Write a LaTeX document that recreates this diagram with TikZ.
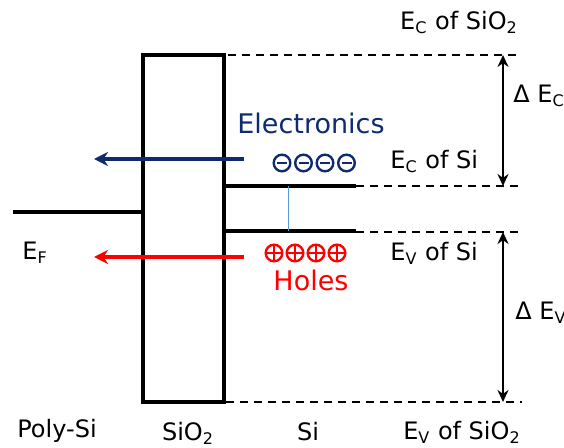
\documentclass[tikz,border=0pt]{standalone}
\usepackage{fontspec}
\setmainfont{DejaVu Sans}
\usetikzlibrary{arrows.meta}
\definecolor{elecblue}{HTML}{0D2B6E}
\definecolor{holered}{HTML}{FF0000}
\definecolor{linkblue}{HTML}{5B9BD5}

\begin{document}
\begin{tikzpicture}[
  x=0.5pt, y=-0.5pt,
  lbl/.style={font=\fontsize{12}{14}\selectfont, inner sep=0pt},
  carrierlbl/.style={font=\fontsize{13.5}{16}\selectfont, inner sep=0pt},
  oxide/.style={draw, line width=1.7pt, minimum width=40.5pt, minimum height=173.5pt, inner sep=0pt},
  band/.style={line width=2pt},
  level/.style={line width=0.8pt, dash pattern=on 4pt off 3pt},
  gap/.style={{Stealth[length=6pt,width=5.5pt]}-{Stealth[length=6pt,width=5.5pt]}, line width=0.9pt},
  flow/.style={-{Stealth[length=7pt,width=7pt]}, line width=1.9pt},
  electron/.style={circle, draw=elecblue, line width=1.2pt, minimum size=8.3pt, inner sep=0pt,
    path picture={\draw[elecblue, line width=1.1pt]
      ([xshift=-2.5pt]path picture bounding box.center) -- ([xshift=2.5pt]path picture bounding box.center);}},
  hole/.style={circle, draw=holered, line width=1.2pt, minimum size=8.3pt, inner sep=0pt,
    path picture={\draw[holered, line width=1.1pt]
      ([xshift=-4pt]path picture bounding box.center) -- ([xshift=4pt]path picture bounding box.center)
      ([yshift=-4pt]path picture bounding box.center) -- ([yshift=4pt]path picture bounding box.center);}}
]
\useasboundingbox (0,0) rectangle (564,448);

% oxide barrier and Fermi level of the gate
\node[oxide] (ox) at (183.5,228.5) {};
\coordinate (efL) at (13,212);
\draw[band] (efL) -- (ox.west |- efL);

% band edges of Si
\coordinate (ecL) at (224,186);
\coordinate (ecR) at (356,186);
\coordinate (evL) at (224,231);
\coordinate (evR) at (356,231);
\draw[band] (ecL) -- (ecR);
\draw[band] (evL) -- (evR);
\draw[linkblue, line width=0.5pt] (288,186) -- (288,231);

% dashed levels
\coordinate (ecEnd) at (520,186);
\coordinate (evEnd) at (522,232);
\coordinate (topL) at (228,55);
\coordinate (topR) at (517,55);
\coordinate (botL) at (226,402);
\coordinate (botR) at (522,402);
\draw[level] (ecR) -- (ecEnd);
\draw[level] (evR |- evEnd) -- (evEnd);
\draw[level] (topL) -- (topR);
\draw[level] (botL) -- (botR);

% band offsets
\coordinate (gapx) at (503,0);
\draw[gap] (topR -| gapx) -- (ecEnd -| gapx);
\draw[gap] (evEnd -| gapx) -- (botR -| gapx);

% carriers
\coordinate (eStart) at (244,159);
\coordinate (eEnd) at (94,159);
\coordinate (hStart) at (244,257);
\coordinate (hEnd) at (94,257);
\draw[flow, elecblue] (eStart) -- (eEnd);
\draw[flow, holered] (hStart) -- (hEnd);
\foreach \i in {0,...,3} {
  \node[electron] (e\i) at (282+21.5*\i,163) {};
  \node[hole] (h\i) at (274+21*\i,253) {};
}
\node[carrierlbl, text=elecblue, anchor=base] (elec) at (311,134) {Electronics};
\node[carrierlbl, text=holered, anchor=base] (holes) at (311,291) {Holes};

% labels
\node[lbl, anchor=base] (ecox) at (459,30) {E\textsubscript{C} of SiO\textsubscript{2}};
\node[lbl, anchor=base west] (dec) at (513,103) {Δ E\textsubscript{C}};
\node[lbl, anchor=base west] (ecsi) at (390,169) {E\textsubscript{C} of Si};
\node[lbl, anchor=base west] (evsi) at (390,261) {E\textsubscript{V} of Si};
\node[lbl, anchor=base west] (dev) at (515,320) {Δ E\textsubscript{V}};
\node[lbl, anchor=base west] (ef) at (22,260) {E\textsubscript{F}};
\node[lbl, anchor=base] (poly) at (57,438) {Poly-Si};
\node[lbl, anchor=base] (oxlbl) at (188,441) {SiO\textsubscript{2}};
\node[lbl, anchor=base] (si) at (308,441) {Si};
\node[lbl, anchor=base] (evox) at (462,440) {E\textsubscript{V} of SiO\textsubscript{2}};
\end{tikzpicture}
\end{document}
